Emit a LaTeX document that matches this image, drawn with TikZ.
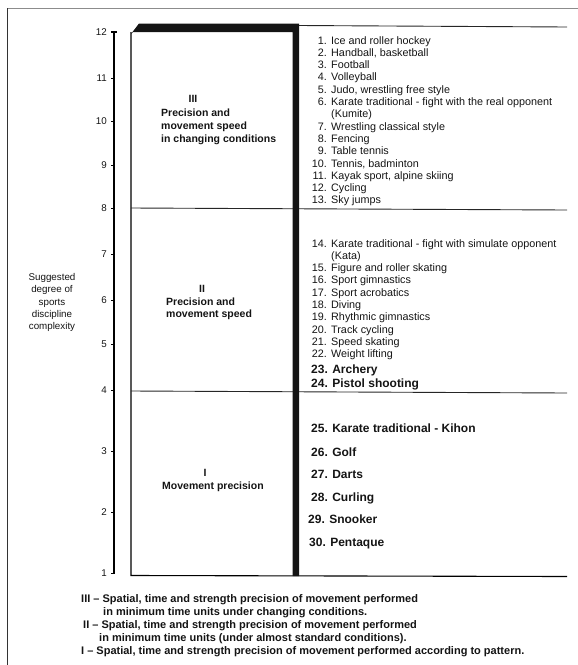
\documentclass[tikz,border=0pt]{standalone}
\usepackage{fontspec}
\setmainfont{Liberation Sans}
\begin{document}
\begin{tikzpicture}[x=1pt,y=-1pt,
  txt/.style={inner sep=0pt, text=black!92},
  itemnum/.style={txt, anchor=base east, font=\fontsize{10.8}{12}\selectfont},
  itemtxt/.style={txt, anchor=base west, font=\fontsize{10.8}{12}\selectfont},
  bigitem/.style={txt, anchor=base west, font=\bfseries\fontsize{12}{14}\selectfont},
  grouplbl/.style={txt, anchor=base west, font=\bfseries\fontsize{10.5}{12}\selectfont},
  romanlbl/.style={txt, anchor=base, font=\bfseries\fontsize{10.5}{12}\selectfont},
  axisnum/.style={txt, anchor=base east, font=\fontsize{9.8}{12}\selectfont},
  legendtxt/.style={txt, anchor=base west, font=\bfseries\fontsize{11}{12}\selectfont},
  frameline/.style={line width=1.1pt},
  thinline/.style={line width=0.9pt, black!85}
]
\useasboundingbox (0,0) rectangle (578,665);
% page border
\draw[line width=1.2pt, black!45] (7,8.5) -- (578,8.5);
\draw[line width=1.2pt, black!80] (7.5,8) -- (7.5,665);

% axis
\draw[frameline] (114,32) -- (114,574);
\draw[frameline] (111,32) -- (117,32);
\foreach \lv/\yy in {12/32,11/78,10/121,9/165,8/208,7/254,6/300,5/344,4/390,3/451,2/512,1/573}{
  \draw[line width=0.8pt] (111,\yy) -- (114,\yy);
  \node[axisnum] (ax\lv) at (107,\yy+3.6) {\lv};
}

% box
\draw[frameline] (131,32) -- (131,575.5) -- (567,576.5);
\draw[thinline] (131,208) -- (567,210);
\draw[thinline] (131,391) -- (567,393);
\draw[thinline] (299,25.5) -- (567,27);
\fill[black!92] (131,34) -- (139,23.5) -- (299,23.5) -- (299,576) -- (292.5,576) -- (292.5,32) -- (133,32) -- cycle;

% left label
\node[txt, align=center, font=\fontsize{9.8}{12.2}\selectfont, anchor=center] (sugg) at (52,302.5)
  {Suggested\\degree of\\sports\\discipline\\complexity};

% group labels
\node[romanlbl] (r3) at (193,102) {III};
\node[grouplbl] (g3a) at (161,116) {Precision and};
\node[grouplbl] (g3b) at (161,129) {movement speed};
\node[grouplbl] (g3c) at (161,142) {in changing conditions};
\node[romanlbl] (r2) at (202,292) {II};
\node[grouplbl] (g2a) at (166,305) {Precision and};
\node[grouplbl] (g2b) at (166,317.5) {movement speed};
\node[romanlbl] (r1) at (205,476) {I};
\node[grouplbl] (g1a) at (162,489) {Movement precision};

% items 1-13
\foreach \n/\t [count=\i from 0] in {1./Ice and roller hockey, 2./{Handball, basketball}, 3./Football, 4./Volleyball, 5./{Judo, wrestling free style}, 6./Karate traditional - fight with the real opponent, /(Kumite), 7./Wrestling classical style, 8./Fencing, 9./Table tennis, 10./{Tennis, badminton}, 11./{Kayak sport, alpine skiing}, 12./Cycling, 13./Sky jumps}{
  \node[itemnum] (na\i) at (327,44+12.3*\i) {\n};
  \node[itemtxt] (ta\i) at (331,44+12.3*\i) {\t};
}
% items 14-22
\foreach \n/\t [count=\i from 0] in {14./Karate traditional - fight with simulate opponent, /(Kata), 15./Figure and roller skating, 16./Sport gimnastics, 17./Sport acrobatics, 18./Diving, 19./Rhythmic gimnastics, 20./Track cycling, 21./Speed skating, 22./Weight lifting}{
  \node[itemnum] (nb\i) at (327,247+12.3*\i) {\n};
  \node[itemtxt] (tb\i) at (331,247+12.3*\i) {\t};
}
% items 23-24
\node[bigitem] (c23) at (311,373.5) {23. Archery};
\node[bigitem] (c24) at (311,387.5) {24. Pistol shooting};
% items 25-30
\node[bigitem] (d25) at (311,432.5) {25. Karate traditional - Kihon};
\node[bigitem] (d26) at (311,456.5) {26. Golf};
\node[bigitem] (d27) at (311,478.5) {27. Darts};
\node[bigitem] (d28) at (311,501.5) {28. Curling};
\node[bigitem] (d29) at (308,523.5) {29. Snooker};
\node[bigitem] (d30) at (309,546.5) {30. Pentaque};

% legend
\node[legendtxt] (l1) at (81,602) {III -- Spatial, time and strength precision of movement performed};
\node[legendtxt] (l2) at (103,615) {in minimum time units under changing conditions.};
\node[legendtxt] (l3) at (83,628) {II -- Spatial, time and strength precision of movement performed};
\node[legendtxt] (l4) at (99,641) {in minimum time units (under almost standard conditions).};
\node[legendtxt] (l5) at (81,654) {I -- Spatial, time and strength precision of movement performed according to pattern.};
\end{tikzpicture}
\end{document}
